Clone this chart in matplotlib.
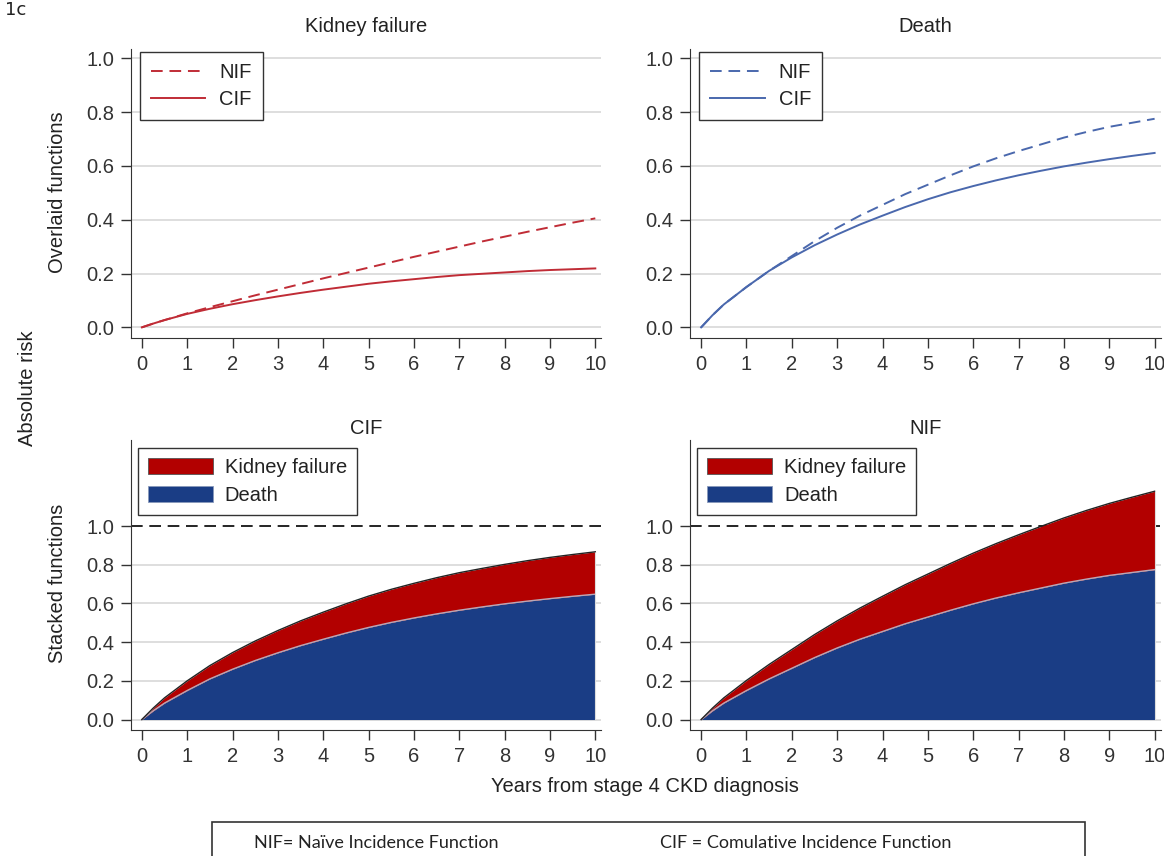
import matplotlib
matplotlib.use("Agg")
import matplotlib.pyplot as plt
from matplotlib.patches import Patch, Rectangle

# ---- data (years, absolute risk) ------------------------------------------------------------
years = [0, 0.25, 0.5, 1, 1.5, 2, 2.5, 3, 3.5, 4, 4.5, 5, 5.5, 6, 6.5, 7, 7.5, 8, 8.5, 9, 9.5, 10]
kid_nif = [0, .014, .027, .052, .075, .097, .119, .140, .161, .182, .202, .222, .242, .262,
           .281, .300, .319, .337, .355, .372, .389, .405]
kid_cif = [0, .014, .027, .050, .069, .086, .101, .115, .128, .140, .151, .162, .171, .179,
           .187, .194, .199, .204, .209, .213, .216, .219]
death_nif = [0, .045, .085, .150, .210, .265, .320, .370, .415, .455, .495, .530, .565, .598,
             .628, .655, .680, .705, .726, .745, .760, .775]
death_cif = [0, .045, .085, .150, .210, .260, .305, .345, .382, .415, .447, .476, .502, .525,
             .546, .565, .582, .598, .612, .625, .637, .648]
x_ticks = list(range(0, 11))
y_ticks = [0.0, 0.2, 0.4, 0.6, 0.8, 1.0]

# ---- palette --------------------------------------------------------------------------------
C_RED_LINE, C_BLUE_LINE = "#c02c36", "#4a68ad"
C_RED_FILL, C_BLUE_FILL = "#b20000", "#1a3d85"
C_GRID = "#d4d4d4"
FS = 14.5

plt.rcParams.update({"font.family": ["Liberation Sans", "DejaVu Sans"], "font.size": FS,
                     "axes.edgecolor": "#333333", "xtick.color": "#333333",
                     "ytick.color": "#333333", "text.color": "#222222"})

fig = plt.figure(figsize=(11.64, 8.56), dpi=100)
W = 0.404
axTL = fig.add_axes([0.1125, 0.605, W, 0.338])
axTR = fig.add_axes([0.593, 0.605, W, 0.338])
axBL = fig.add_axes([0.1125, 0.147, W, 0.339])
axBR = fig.add_axes([0.593, 0.147, W, 0.339])


def style(ax, ylim, grid_vals):
    ax.set_xlim(-0.24, 10.13)
    ax.set_ylim(*ylim)
    ax.spines["top"].set_visible(False)
    ax.spines["right"].set_visible(False)
    ax.set_xticks(x_ticks)
    ax.set_yticks(y_ticks)
    ax.set_yticklabels([f"{v:.1f}" for v in y_ticks])
    ax.tick_params(direction="out", length=7, width=1, labelsize=FS, pad=5)
    for g in grid_vals:
        ax.axhline(g, color=C_GRID, lw=1.1, zorder=0)


# ---- top row: overlaid functions ------------------------------------------------------------
for ax, nif, cif, col, title in [(axTL, kid_nif, kid_cif, C_RED_LINE, "Kidney failure"),
                                 (axTR, death_nif, death_cif, C_BLUE_LINE, "Death")]:
    style(ax, (-0.04, 1.035), y_ticks)
    ax.plot(years, nif, color=col, lw=1.4, dashes=(6, 3.5), label="NIF", zorder=3)
    ax.plot(years, cif, color=col, lw=1.4, label="CIF", zorder=3)
    ax.set_title(title, fontsize=FS, pad=12)
    leg = ax.legend(loc="upper left", bbox_to_anchor=(0.019, 0.988), fontsize=FS,
                    frameon=True, fancybox=False, edgecolor="#333333", framealpha=1,
                    handlelength=2.7, borderpad=0.55, labelspacing=0.4, handletextpad=0.7,
                    borderaxespad=0)
    leg.get_frame().set_linewidth(1.0)

# ---- bottom row: stacked functions ----------------------------------------------------------
for ax, death, kid, title in [(axBL, death_cif, kid_cif, "CIF"),
                              (axBR, death_nif, kid_nif, "NIF")]:
    style(ax, (-0.055, 1.445), y_ticks[:-1])
    total = [d + k for d, k in zip(death, kid)]
    ax.axhline(1.0, color="black", lw=1.2, dashes=(7, 4), zorder=1)
    ax.fill_between(years, 0, death, color=C_BLUE_FILL, lw=0, zorder=2)
    ax.fill_between(years, death, total, color=C_RED_FILL, lw=0, zorder=2)
    ax.plot(years, death, color="#b8a8b8", lw=1.0, zorder=3)
    ax.plot(years, total, color="#222222", lw=1.0, zorder=3)
    ax.vlines(years[-1], 0, total[-1], color="#dddddd", lw=0.8, zorder=3)
    ax.set_title(title, fontsize=FS, pad=4)
    handles = [Patch(facecolor=C_RED_FILL, edgecolor="#555555", lw=0.6, label="Kidney failure"),
               Patch(facecolor=C_BLUE_FILL, edgecolor="#8899bb", lw=0.6, label="Death")]
    leg = ax.legend(handles=handles, loc="upper left", bbox_to_anchor=(0.015, 0.972),
                    fontsize=FS, frameon=True, fancybox=False, edgecolor="#333333",
                    framealpha=1, handlelength=3.2, handleheight=0.85, borderpad=0.5,
                    labelspacing=0.45, handletextpad=0.6, borderaxespad=0)
    leg.get_frame().set_linewidth(1.0)

# ---- shared labels --------------------------------------------------------------------------
fig.text(0.049, 0.776, "Overlaid functions", rotation=90, ha="center", va="center", fontsize=FS)
fig.text(0.049, 0.318, "Stacked functions", rotation=90, ha="center", va="center", fontsize=FS)
fig.text(0.024, 0.547, "Absolute risk", rotation=90, ha="center", va="center", fontsize=FS)
fig.text(0.554, 0.081, "Years from stage 4 CKD diagnosis", ha="center", va="center",
         fontsize=FS)
fig.text(0.004, 0.999, "1c", ha="left", va="top", fontsize=13, family="DejaVu Sans")

# footnote box, cut off at the bottom edge like the source
fig.patches.append(Rectangle((0.182, -0.05), 0.75, 0.09, transform=fig.transFigure,
                             facecolor="white", edgecolor="#333333", lw=1.2))
fig.text(0.218, 0.015, "NIF= Naïve Incidence Function", ha="left", va="center",
         fontsize=13, family=["Lato", "DejaVu Sans"])
fig.text(0.567, 0.015, "CIF = Comulative Incidence Function", ha="left", va="center",
         fontsize=13, family=["Lato", "DejaVu Sans"])

fig.savefig("out.png", dpi=100)
print("saved out.png")
